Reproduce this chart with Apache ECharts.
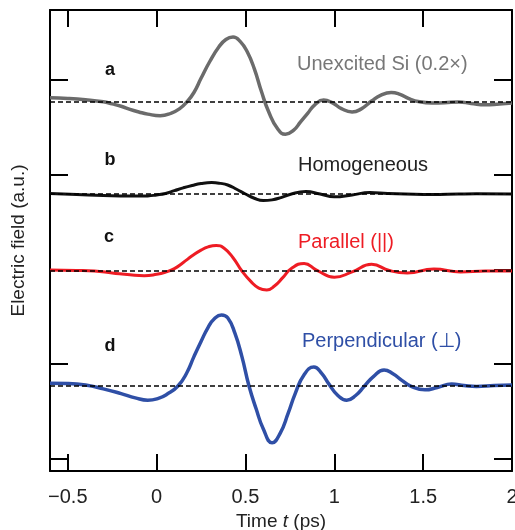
<!DOCTYPE html>
<html>
<head>
<meta charset="utf-8">
<script src="https://cdn.jsdelivr.net/npm/echarts@6/dist/echarts.min.js"></script>
<style>
  html, body { margin: 0; padding: 0; background: #fff; }
  #main { width: 515px; height: 530px; }
</style>
</head>
<body>
<div id="main"></div>
<script>
// time axis (ps)
const xTicks = [-0.5, 0, 0.5, 1, 1.5, 2];
const yTicks = [0, 1, 2, 3, 4];

// vertical offset of each trace (a.u.)
const offsets = [3.768, 2.797, 1.984, 0.770];
const traceNames = ['Unexcited Si (0.2×)', 'Homogeneous', 'Parallel (||)', 'Perpendicular (⊥)'];
const traceLetters = ['a', 'b', 'c', 'd'];

// a: unexcited Si (scaled 0.2x)
const timeA = [-0.6, -0.5, -0.4, -0.3, -0.25, -0.2, -0.15, -0.1, -0.05, 0.02, 0.08, 0.13, 0.17, 0.21, 0.25, 0.3, 0.35, 0.39, 0.43, 0.47, 0.51, 0.55, 0.59, 0.63, 0.68, 0.725, 0.77, 0.81, 0.85, 0.89, 0.94, 0.99, 1.04, 1.1, 1.15, 1.21, 1.26, 1.32, 1.37, 1.42, 1.48, 1.55, 1.62, 1.7, 1.77, 1.85, 1.93, 2.0];
const fieldA = [0.045, 0.038, 0.024, 0.002, -0.02, -0.045, -0.078, -0.105, -0.128, -0.145, -0.12, -0.07, 0, 0.1, 0.25, 0.43, 0.58, 0.66, 0.685, 0.64, 0.53, 0.35, 0.11, -0.1, -0.28, -0.34, -0.3, -0.21, -0.12, -0.03, 0.02, -0.01, -0.07, -0.105, -0.075, 0.01, 0.07, 0.1, 0.08, 0.035, 0.002, -0.01, -0.008, 0, -0.015, -0.03, -0.02, -0.01];

// b: homogeneous
const timeB = [-0.6, -0.45, -0.3, -0.15, -0.05, 0, 0.05, 0.1, 0.15, 0.2, 0.25, 0.31, 0.36, 0.4, 0.45, 0.5, 0.55, 0.6, 0.65, 0.7, 0.75, 0.84, 0.92, 1.0, 1.1, 1.2, 1.3, 1.4, 1.55, 1.7, 1.8, 2.0];
const fieldB = [0.005, -0.005, -0.016, -0.022, -0.02, -0.01, 0.005, 0.035, 0.065, 0.09, 0.11, 0.12, 0.112, 0.095, 0.05, 0, -0.045, -0.07, -0.062, -0.038, -0.005, 0.025, 0, -0.03, -0.01, 0.015, 0.006, 0, -0.005, 0, 0.002, 0];

// c: parallel
const timeC = [-0.6, -0.45, -0.35, -0.25, -0.15, -0.07, 0, 0.05, 0.1, 0.15, 0.2, 0.25, 0.29, 0.335, 0.38, 0.43, 0.48, 0.53, 0.575, 0.62, 0.665, 0.71, 0.76, 0.83, 0.9, 1.0, 1.1, 1.21, 1.31, 1.41, 1.56, 1.71, 1.85, 2.0];
const fieldC = [0.01, 0.006, 0, -0.02, -0.04, -0.05, -0.035, -0.012, 0.025, 0.09, 0.16, 0.22, 0.255, 0.27, 0.24, 0.14, 0, -0.11, -0.18, -0.2, -0.155, -0.07, 0.03, 0.08, 0.01, -0.066, -0.01, 0.07, 0.005, -0.02, 0.02, -0.01, 0, 0];

// d: perpendicular
const timeD = [-0.6, -0.5, -0.4, -0.3, -0.2, -0.12, -0.05, 0.01, 0.06, 0.12, 0.17, 0.21, 0.25, 0.29, 0.325, 0.365, 0.4, 0.44, 0.48, 0.52, 0.56, 0.6, 0.65, 0.695, 0.74, 0.78, 0.83, 0.885, 0.93, 0.97, 1.02, 1.07, 1.12, 1.17, 1.22, 1.28, 1.33, 1.38, 1.43, 1.51, 1.58, 1.66, 1.73, 1.8, 1.9, 2.0];
const fieldD = [0.03, 0.027, 0.01, -0.03, -0.08, -0.125, -0.15, -0.13, -0.085, 0, 0.14, 0.31, 0.47, 0.62, 0.71, 0.75, 0.72, 0.56, 0.31, 0, -0.24, -0.45, -0.6, -0.5, -0.29, -0.08, 0.12, 0.2, 0.13, 0.02, -0.1, -0.15, -0.1, 0, 0.1, 0.17, 0.13, 0.06, 0, -0.04, -0.015, 0.02, 0.005, -0.005, 0.005, 0.01];

const times = [timeA, timeB, timeC, timeD];
const fields = [fieldA, fieldB, fieldC, fieldD];
const colors = ['#6b6b6b', '#111111', '#ee1c24', '#2f4fa6'];
const textColors = ['#777777', '#222222', '#ee1c24', '#2f4fa6'];
const widths = [3.5, 3, 3, 3.5];

const FONT = 'Liberation Sans, Arial, sans-serif';

let chart = echarts.init(document.getElementById('main'));

let series = [];
fields.forEach((f, i) => {
    series.push({
        name: traceNames[i],
        type: 'line',
        smooth: 0.5,
        symbol: 'none',
        lineStyle: { color: colors[i], width: widths[i] },
        data: f.map((v, k) => [times[i][k], v + offsets[i]]),
        z: 2
    });
});
// dashed zero lines, drawn on top
offsets.forEach((off) => {
    series.push({
        type: 'line',
        symbol: 'none',
        silent: true,
        lineStyle: { color: '#000', width: 1.6, type: [5, 3] },
        data: [[-0.6, off], [2.0, off]],
        z: 5
    });
});

const xCommon = {
    type: 'value',
    min: -0.6,
    max: 2.0,
    axisLine: { show: true, onZero: false, lineStyle: { color: '#000', width: 2 } },
    axisTick: { show: true, inside: true, length: 17, customValues: xTicks, lineStyle: { color: '#000', width: 2 } },
    splitLine: { show: false }
};
const yCommon = {
    type: 'value',
    min: -0.127,
    max: 4.739,
    axisLine: { show: true, onZero: false, lineStyle: { color: '#000', width: 2 } },
    axisTick: { show: true, inside: true, length: 18, customValues: yTicks, lineStyle: { color: '#000', width: 2 } },
    axisLabel: { show: false },
    splitLine: { show: false }
};

let labels = [];
const letterPos = [[110, 70], [110, 160], [109, 237], [110, 346]];
const namePos = [[297, 64], [298, 165], [298, 242], [302, 341]];
traceLetters.forEach((t, i) => {
    labels.push({
        type: 'text', x: letterPos[i][0], y: letterPos[i][1],
        style: { text: t, fill: '#111', font: 'bold 18px ' + FONT, textAlign: 'center', textVerticalAlign: 'middle' }
    });
    labels.push({
        type: 'text', x: namePos[i][0], y: namePos[i][1],
        style: { text: traceNames[i], fill: textColors[i], font: '20px ' + FONT, textAlign: 'left', textVerticalAlign: 'middle' }
    });
});

let option = {
    backgroundColor: '#fff',
    animation: false,
    grid: { left: 50, right: 3, top: 10, bottom: 59, containLabel: false, outerBoundsMode: 'none' },
    xAxis: [
        Object.assign({}, xCommon, {
            position: 'bottom',
            name: 'Time {i|t} (ps)',
            nameLocation: 'middle',
            nameGap: 40,
            nameTextStyle: {
                fontFamily: FONT, fontSize: 19, color: '#222',
                rich: { i: { fontFamily: FONT, fontSize: 19, fontStyle: 'italic', color: '#222' } }
            },
            axisLabel: {
                show: true, customValues: xTicks, margin: 16,
                fontFamily: FONT, fontSize: 20, color: '#222',
                formatter: (v) => String(v).replace('-', '\u2212')
            }
        }),
        Object.assign({}, xCommon, { position: 'top', axisLabel: { show: false } })
    ],
    yAxis: [
        Object.assign({}, yCommon, {
            position: 'left',
            name: 'Electric field (a.u.)',
            nameLocation: 'middle',
            nameGap: 22,
            nameTextStyle: { fontFamily: FONT, fontSize: 19, color: '#222' }
        }),
        Object.assign({}, yCommon, { position: 'right' })
    ],
    graphic: labels,
    series: series
};
chart.setOption(option);
</script>
</body>
</html>
